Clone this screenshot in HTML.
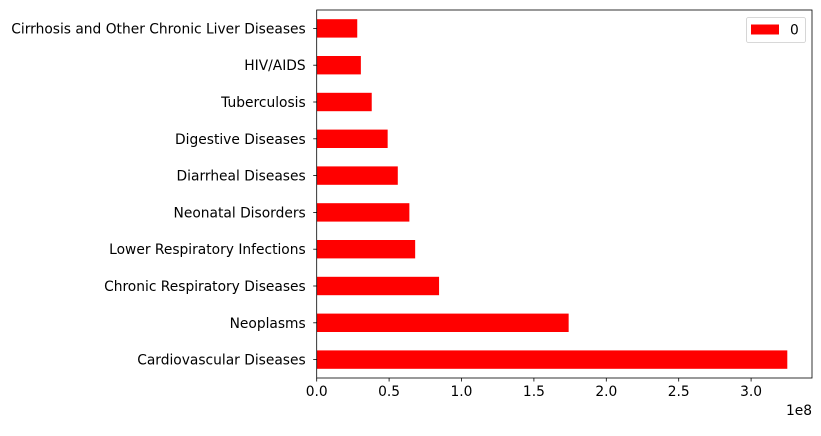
<!DOCTYPE html>
<html><head><meta charset="utf-8"><style>
body{margin:0;background:#fff;}
svg text{font-family:"DejaVu Sans","Liberation Sans",sans-serif;font-size:13.8px;fill:#000;}
</style></head><body>
<svg id="chart" width="821" height="431" xmlns="http://www.w3.org/2000/svg"></svg>
<script>
const categories=["Cardiovascular Diseases","Neoplasms","Chronic Respiratory Diseases","Lower Respiratory Infections","Neonatal Disorders","Diarrheal Diseases","Digestive Diseases","Tuberculosis","HIV/AIDS","Cirrhosis and Other Chronic Liver Diseases"];
const values=[3.25e8,1.74e8,0.845e8,0.68e8,0.64e8,0.56e8,0.49e8,0.38e8,0.305e8,0.28e8];
const xTicks=[0,0.5e8,1e8,1.5e8,2e8,2.5e8,3e8];
const xTickLabels=["0.0","0.5","1.0","1.5","2.0","2.5","3.0"];
const NS="http://www.w3.org/2000/svg";
const svg=document.getElementById('chart');
const L=316.7,R=812,T=10,B=378;
const xs=v=>L+v*144.8/1e8;
const band=(B-T)/categories.length;
const yc=i=>B-band*(i+0.5);
function mk(t,a,p){const e=document.createElementNS(NS,t);for(const k in a)e.setAttribute(k,a[k]);(p||svg).appendChild(e);return e;}
categories.forEach((c,i)=>{
 const r=mk('rect',{x:L,y:yc(i)-band*0.25,width:xs(values[i])-L,height:band*0.5,fill:'#ff0000'});
 
 
 mk('line',{x1:L-3.5,x2:L,y1:yc(i),y2:yc(i),stroke:'#000','stroke-width':0.8});
 const t=mk('text',{x:L-11,y:yc(i)+5,'text-anchor':'end'});t.textContent=c;
 
 
});
xTicks.forEach((v,i)=>{
 mk('line',{x1:xs(v),x2:xs(v),y1:B,y2:B+3.5,stroke:'#000','stroke-width':0.8});
 const t=mk('text',{x:xs(v),y:B+18,'text-anchor':'middle'});t.textContent=xTickLabels[i];
 
 
});
const ax=mk('rect',{x:L,y:T,width:R-L,height:B-T,fill:'none',stroke:'#000','stroke-width':0.8});


const off=mk('text',{x:R,y:B+37,'text-anchor':'end'});off.textContent='1e8';


const lg=mk('g',{});


mk('rect',{x:746.5,y:17.5,width:59,height:25,rx:2,fill:'#fff',stroke:'#ccc','stroke-width':0.8},lg);
mk('rect',{x:751,y:24.5,width:28,height:10,fill:'#ff0000'},lg);
const lt=mk('text',{x:790,y:34.5},lg);lt.textContent='0';
</script>
</body></html>
